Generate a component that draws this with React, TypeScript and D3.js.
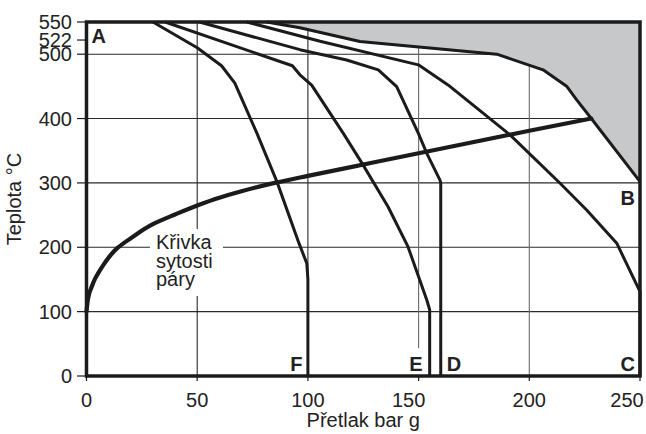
import React from "react";
import * as d3 from "d3";

const xTicks = [0, 50, 100, 150, 200, 250];
const yTicks = [0, 100, 200, 300, 400, 500, 522, 550];
const xGrid = [50, 100, 150, 200];
const yGrid = [100, 200, 300, 400, 500];

// saturation curve (pressure bar g, temperature °C)
const saturation: [number, number][] = [
  [0, 100], [0.3, 110], [0.8, 122], [1.5, 131], [2.5, 140], [4, 152], [5.5, 161], [7.5, 172],
  [10, 184], [14, 199], [20, 214], [30, 236], [40, 251], [50, 265], [60, 277],
  [70, 287], [85, 300], [100, 311], [130, 332], [160, 353], [200, 381], [228, 400],
];

const curveF: [number, number][] = [
  [30, 550], [50, 510], [61, 482], [67, 455], [77, 377], [86, 302], [96, 206], [99.5, 175], [100, 150], [100, 0],
];
const curveE: [number, number][] = [
  [35.5, 550], [93, 482], [96.4, 468], [101.7, 452], [116, 377], [124.9, 328], [136.2, 263],
  [145.2, 201], [153.7, 118], [155, 103], [155, 0],
];
const curveD: [number, number][] = [
  [51, 550], [96.4, 507], [117.5, 491], [131.8, 475.7], [140.1, 449.7], [149.9, 377],
  [153.7, 346], [159.7, 304], [160, 300], [160, 0],
];
const curveC: [number, number][] = [
  [72.4, 550], [105.5, 520], [149.9, 483.4], [163.3, 452.3], [191.3, 374.6], [213.9, 299.5],
  [225.9, 258], [239.5, 206.3], [250, 131], [250, 0],
];
const boundary: [number, number][] = [
  [81.4, 550], [96.4, 541], [123.5, 519.6], [185.3, 500], [206.2, 475.7], [217, 449.7],
  [221.4, 429], [228, 400], [250, 302],
];

const pointLabels = ["A", "B", "C", "D", "E", "F"];
const satLabel = ["Křivka", "sytosti", "páry"];

const W = 646;
const H = 434;
const FONT = "'Liberation Sans', Arial, Helvetica, sans-serif";
const INK = "#1b1b1b";

export default function App() {
  const x = d3.scaleLinear().domain([0, 250]).range([86.5, 640]);
  const y = d3.scaleLinear().domain([0, 550]).range([376, 22]);
  const line = d3.line<[number, number]>().x((d) => x(d[0])).y((d) => y(d[1]));
  const satLine = d3
    .line<[number, number]>()
    .x((d) => x(d[0]))
    .y((d) => y(d[1]))
    .curve(d3.curveMonotoneY);
  const grayArea = line([...boundary, [250, 550]]) + "Z";

  const labelPos: Record<string, { x: number; y: number; anchor: string }> = {
    A: { x: x(0) + 5, y: y(550) + 21, anchor: "start" },
    B: { x: x(250) - 5, y: y(300) + 22, anchor: "end" },
    C: { x: x(250) - 5, y: 371, anchor: "end" },
    D: { x: x(160) + 6, y: 371, anchor: "start" },
    E: { x: x(155) - 7, y: 371, anchor: "end" },
    F: { x: x(100) - 5.5, y: 371, anchor: "end" },
  };
  const xLabelShift: Record<number, number> = { 150: -10, 250: -13 };

  return (
    <svg width={W} height={H} style={{ position: "absolute", left: 0, top: 0, background: "#fff" }} fontFamily={FONT}>
      {yGrid.map((v) => (
        <line key={"hg" + v} x1={x(0)} x2={x(250)} y1={y(v)} y2={y(v)} stroke="#2a2a2a" strokeWidth={1.1} />
      ))}
      {xGrid.map((v) => (
        <line
          key={"vg" + v}
          x1={x(v)}
          x2={x(v)}
          y1={y(550)}
          y2={v === 150 ? y(43) : y(0)}
          stroke={v === 150 || v === 200 ? "#6a6a6a" : "#2a2a2a"}
          strokeWidth={1.1}
        />
      ))}
      <rect x={150} y={229} width={73} height={67} fill="#fff" />

      <path d={grayArea} fill="#c7c8ca" stroke="none" />

      {yTicks.map((v) => (
        <g key={"yt" + v}>
          <line x1={77} x2={x(0)} y1={y(v)} y2={y(v)} stroke={INK} strokeWidth={1.2} />
          <text x={72} y={y(v)} dy="0.36em" textAnchor="end" fontSize={20} fill="#222">
            {v}
          </text>
        </g>
      ))}
      {xTicks.map((v) => (
        <g key={"xt" + v}>
          <line x1={x(v)} x2={x(v)} y1={y(0)} y2={y(0) + 5} stroke={INK} strokeWidth={1.2} />
          <text x={x(v) + (xLabelShift[v] || 0)} y={407} textAnchor="middle" fontSize={20} fill="#222">
            {v}
          </text>
        </g>
      ))}

      {[curveF, curveE, curveD, curveC].map((c, i) => (
        <path key={"c" + i} d={line(c) || ""} fill="none" stroke={INK} strokeWidth={3} strokeLinejoin="round" />
      ))}
      <path d={line(boundary) || ""} fill="none" stroke={INK} strokeWidth={3} strokeLinejoin="round" />
      <path d={satLine(saturation) || ""} fill="none" stroke={INK} strokeWidth={4.2} strokeLinecap="round" />

      <rect x={x(0)} y={y(550)} width={x(250) - x(0)} height={y(0) - y(550)} fill="none" stroke={INK} strokeWidth={3.5} />

      {satLabel.map((t, i) => (
        <text key={t} x={156} y={249 + i * 18.5} fontSize={20} fill="#222">
          {t}
        </text>
      ))}

      {pointLabels.map((t) => {
        const pos = labelPos[t];
        return (
          <text key={t} x={pos.x} y={pos.y} textAnchor={pos.anchor as any} fontSize={20} fontWeight="bold" fill="#222">
            {t}
          </text>
        );
      })}

      <text x={(x(0) + x(250)) / 2} y={427} textAnchor="middle" fontSize={20} fill="#222">
        Přetlak bar g
      </text>
      <text transform={`translate(21, ${(y(0) + y(550)) / 2}) rotate(-90)`} textAnchor="middle" fontSize={20} fill="#222">
        Teplota °C
      </text>
    </svg>
  );
}
